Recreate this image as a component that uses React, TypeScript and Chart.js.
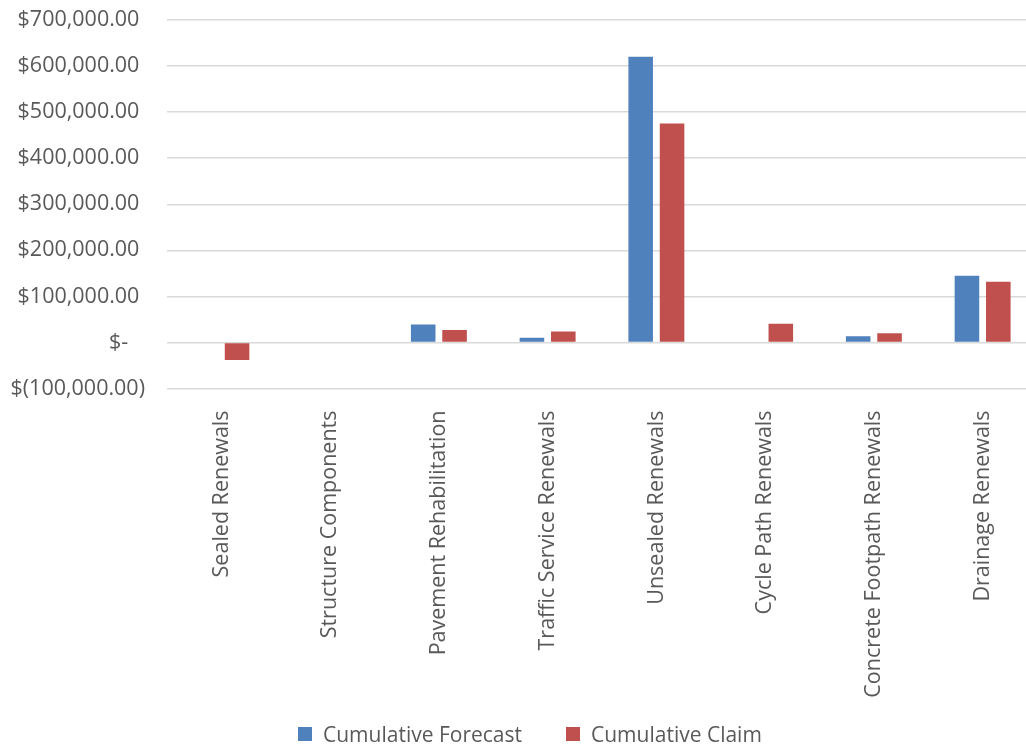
import React, { useEffect, useRef } from "react";
import { Chart, registerables } from "chart.js";

Chart.register(...registerables);

const categories = [
  "Sealed Renewals",
  "Structure Components",
  "Pavement Rehabilitation",
  "Traffic Service Renewals",
  "Unsealed Renewals",
  "Cycle Path Renewals",
  "Concrete Footpath Renewals",
  "Drainage Renewals",
];

const cumulativeForecast = [0, 0, 38700, 10000, 620000, 0, 13500, 145000];
const cumulativeClaim = [-38000, 0, 27000, 24000, 475500, 40800, 20000, 131500];

const seriesNames = ["Cumulative Forecast", "Cumulative Claim"];
const seriesColors = ["#4F81BD", "#C0504D"];

const FONT = "'Open Sans', 'DejaVu Sans', sans-serif";
const TEXT = "#595959";
const GRID = "#D9D9D9";

// Accounting-style currency labels
function formatCurrency(v: number): string {
  if (v === 0) return "$-   ";
  const s = Math.abs(v).toLocaleString("en-US", {
    minimumFractionDigits: 2,
    maximumFractionDigits: 2,
  });
  return v < 0 ? `$(${s})` : `$${s} `;
}

export default function App() {
  const canvasRef = useRef<HTMLCanvasElement | null>(null);

  useEffect(() => {
    if (!canvasRef.current) return;
    const chart = new Chart(canvasRef.current, {
      type: "bar",
      data: {
        labels: categories,
        datasets: [
          {
            label: seriesNames[0],
            data: cumulativeForecast,
            backgroundColor: seriesColors[0],
            categoryPercentage: 0.577,
            barPercentage: 0.783,
          },
          {
            label: seriesNames[1],
            data: cumulativeClaim,
            backgroundColor: seriesColors[1],
            categoryPercentage: 0.577,
            barPercentage: 0.783,
          },
        ],
      },
      options: {
        animation: false,
        responsive: false,
        maintainAspectRatio: false,
        layout: { padding: { top: 20, left: 0, right: 3, bottom: 33 } },
        plugins: {
          legend: { display: false },
          tooltip: { enabled: false },
        },
        scales: {
          x: {
            grid: { display: false, drawTicks: false },
            border: { display: false },
            ticks: {
              color: TEXT,
              font: { family: FONT, size: 21.5 },
              minRotation: 90,
              maxRotation: 90,
              padding: 22,
              autoSkip: false,
            },
            afterFit: (scale: any) => {
              scale.height = 323.5;
              scale.paddingLeft = 0;
              scale.paddingRight = 0;
            },
          },
          y: {
            min: -100000,
            max: 700000,
            grid: { color: GRID, lineWidth: 1.5, drawTicks: false },
            border: { display: false },
            ticks: {
              stepSize: 100000,
              color: TEXT,
              font: { family: FONT, size: 21.5 },
              padding: 22,
              callback: (v: any) => formatCurrency(Number(v)),
            },
            afterFit: (scale: any) => {
              scale.width = 167;
              scale.paddingTop = 0;
              scale.paddingBottom = 0;
            },
          },
        },
      },
    });
    return () => chart.destroy();
  }, []);

  return (
    <div
      style={{
        position: "fixed",
        left: 0,
        top: 0,
        width: 1026,
        height: 745,
        overflow: "hidden",
        background: "#fff",
      }}
    >
      <canvas ref={canvasRef} width={1040} height={745} />
      <div
        style={{
          position: "absolute",
          left: 298,
          top: 720,
          display: "flex",
          alignItems: "center",
          fontFamily: FONT,
          fontSize: 21,
          color: TEXT,
          lineHeight: "28px",
          whiteSpace: "nowrap",
        }}
      >
        {seriesNames.map((name, i) => (
          <div
            key={name}
            style={{ display: "flex", alignItems: "center", marginRight: i === 0 ? 44 : 0 }}
          >
            <span
              style={{
                display: "inline-block",
                width: 14,
                height: 14,
                background: seriesColors[i],
                marginRight: 11,
              }}
            />
            {name}
          </div>
        ))}
      </div>
    </div>
  );
}
